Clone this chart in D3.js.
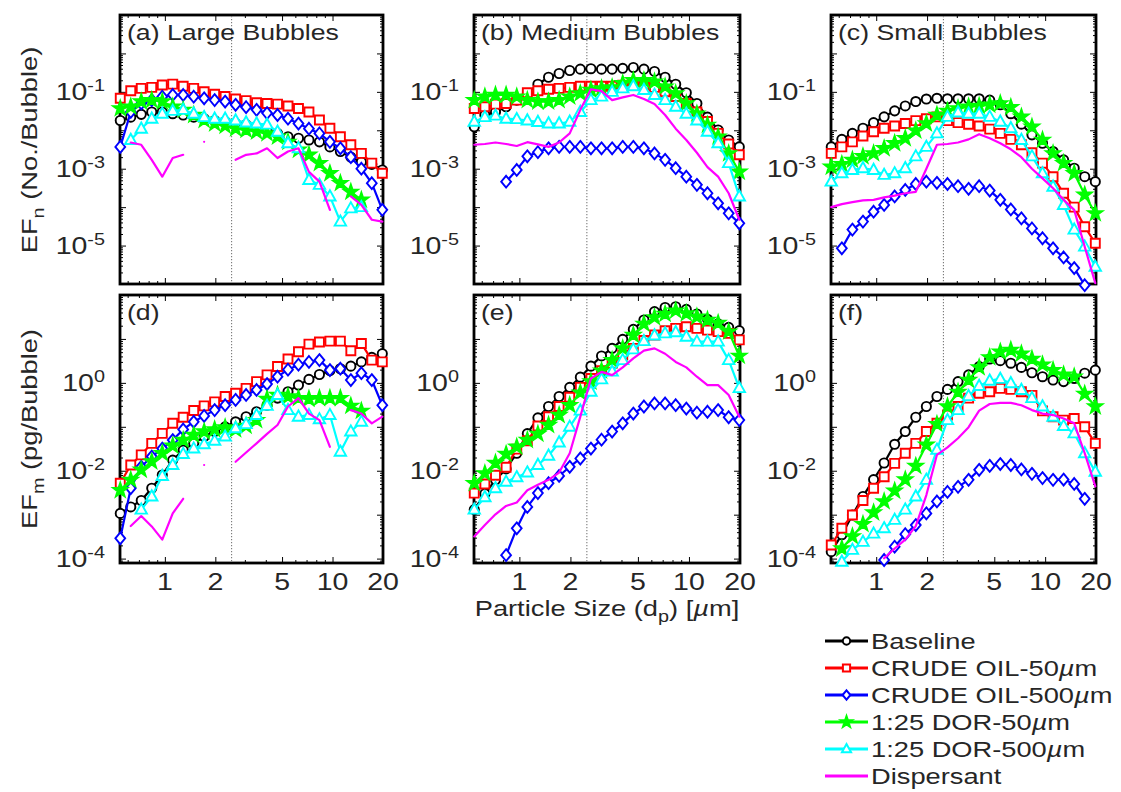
<!DOCTYPE html>
<html>
<head>
<meta charset="utf-8">
<title>Emission factors by particle size</title>
<script src="https://cdn.jsdelivr.net/npm/d3@7/dist/d3.min.js"></script>
<style>
  html, body { margin: 0; padding: 0; background: #fff; }
  svg { display: block; font-family: "Liberation Sans", Arial, Helvetica, sans-serif; }
</style>
</head>
<body>
<svg id="fig" width="1121" height="792"></svg>
<script>
// Particle size bin midpoints (µm)
const sizes = [0.542, 0.626, 0.723, 0.835, 0.965, 1.114, 1.286, 1.486, 1.715, 1.981, 2.288, 2.642, 3.051,
               3.523, 4.068, 4.698, 5.425, 6.264, 7.234, 8.354, 9.647, 11.14, 12.86, 14.86, 17.15, 19.81];

// (a) Large bubbles, EFn (No./Bubble)
const aBaseline = [0.018,0.022,0.026,0.030,0.030,0.027,0.025,0.022,0.020,0.018,0.017,0.015,0.014,0.012,0.010,0.0083,0.0068,0.0062,0.0056,0.0050,0.0037,0.0028,0.0020,0.0015,0.0013,0.00093];
const aCrude50  = [0.068,0.107,0.123,0.131,0.151,0.159,0.14,0.123,0.101,0.087,0.076,0.065,0.059,0.052,0.050,0.048,0.043,0.037,0.030,0.0185,0.0113,0.0068,0.0042,0.0025,0.0014,0.00076];
const aCrude500 = [0.0037,0.030,0.050,0.061,0.075,0.083,0.083,0.075,0.068,0.061,0.056,0.046,0.040,0.034,0.028,0.025,0.020,0.015,0.011,0.0083,0.0050,0.0034,0.0020,0.0010,0.00042,0.000085];
const aDor50    = [0.037,0.041,0.056,0.061,0.056,0.041,0.034,0.025,0.0185,0.015,0.013,0.011,0.0102,0.0092,0.0083,0.0068,0.0050,0.0031,0.0023,0.0014,0.00076,0.00042,0.00025,0.000155,null,null];
const aDor500   = [null,0.0056,0.011,0.020,0.027,0.032,0.034,0.027,0.022,0.020,0.020,0.018,0.016,0.015,0.014,0.0092,0.0046,0.0034,0.00051,0.00038,0.00019,0.000042,0.000093,0.0001,null,null];
const aDisp     = [null,0.0048,0.0042,0.0017,0.00062,0.0019,0.0023,null,0.005,null,null,0.0017,0.0023,0.0025,0.0034,0.0019,0.0028,0.0034,0.00083,0.00046,0.000085,null,0.00019,0.000114,0.000047,0.000042];

// (b) Medium bubbles, EFn
const bBaseline = [0.0123,0.025,0.030,0.041,0.061,0.091,0.158,0.24,0.30,0.36,0.39,0.40,0.39,0.39,0.41,0.43,0.39,0.34,0.24,0.158,0.095,0.050,0.022,0.0102,0.0056,0.0037];
const bCrude50  = [0.037,0.041,0.048,0.050,0.061,0.095,0.107,0.117,0.123,0.131,0.14,0.14,0.14,0.14,0.15,0.16,0.15,0.131,0.101,0.076,0.050,0.030,0.017,0.0083,0.0044,0.0023];
const bCrude500 = [null,null,null,0.00046,0.00093,0.0021,0.0027,0.0034,0.0037,0.0037,0.0037,0.0034,0.0034,0.0034,0.0037,0.0037,0.0034,0.0025,0.0017,0.00103,0.00062,0.00038,0.00023,0.000126,0.000069,0.000038];
const bDor50    = [0.061,0.075,0.083,0.083,0.075,0.061,0.056,0.056,0.061,0.075,0.091,0.112,0.123,0.131,0.167,0.20,0.20,0.185,0.137,0.091,0.050,0.027,0.0138,0.0068,0.0025,0.00083];
const bDor500   = [0.0167,0.022,0.024,0.020,0.0195,0.018,0.0165,0.015,0.015,0.0167,0.030,0.061,0.075,0.10,0.123,0.14,0.112,0.083,0.061,0.041,0.027,0.018,0.0092,0.0046,0.0014,0.00019];
const bDisp     = [0.0042,0.0044,0.0048,0.0044,0.0039,0.0049,0.0043,0.0037,0.0048,0.0083,0.034,0.117,0.104,0.061,0.072,0.083,0.065,0.048,0.025,0.011,0.0056,0.0026,0.0011,0.00062,0.00023,0.000047];

// (c) Small bubbles, EFn
const cBaseline = [0.0037,0.0058,0.0083,0.0113,0.0158,0.0224,0.032,0.043,0.056,0.065,0.068,0.066,0.066,0.066,0.066,0.061,0.046,0.027,0.0144,0.0076,0.0046,0.0028,0.0017,0.00103,0.00062,0.00046];
const cCrude50  = [0.0025,0.0037,0.005,0.0071,0.0092,0.0113,0.0129,0.015,0.0178,0.020,0.0224,0.0178,0.0158,0.0144,0.0129,0.0107,0.0083,0.0058,0.0042,0.0026,0.0014,0.00062,0.00023,0.0001,0.000031,0.0000115];
const cCrude500 = [null,0.0000085,0.000026,0.000042,0.000076,0.000114,0.00019,0.00028,0.0004,0.00046,0.00043,0.0004,0.00035,0.0003,0.00035,0.00027,0.000155,0.000087,0.000051,0.000028,0.0000155,0.0000085,0.0000049,0.0000026,0.00000093,null];
const cDor50    = [0.00112,0.00131,0.0017,0.0021,0.0025,0.0034,0.0046,0.0062,0.0098,0.015,0.025,0.032,0.037,0.041,0.043,0.046,0.050,0.040,0.0224,0.0123,0.0056,0.0025,0.0014,0.00076,0.00021,0.000069];
const cDor500   = [0.00046,0.00076,0.00093,0.00103,0.00093,0.00069,0.00076,0.00103,0.0021,0.0037,0.0083,0.0224,0.029,0.027,0.027,0.0224,0.0167,0.0113,0.0056,0.0021,0.00076,0.00034,0.000114,0.000026,0.0000094,0.0000028];
const cDisp     = [0.0001,0.00012,0.000135,0.00015,0.000155,0.00018,0.0002,0.00023,0.00025,0.001,0.0042,0.0044,0.0048,0.0058,0.0079,0.0062,0.0046,0.0032,0.002,0.001,0.00056,0.00031,0.000155,0.000085,0.0000093,0.00000105];

// (d) Large bubbles, EFm (pg/Bubble)
const dBaseline = [0.00107,0.0015,0.0021,0.0040,0.0080,0.0175,0.0295,0.042,0.060,0.078,0.10,0.13,0.17,0.22,0.31,0.45,0.63,0.89,1.2,1.55,1.9,2.1,2.4,3.0,3.8,4.6];
const dCrude50  = [0.0052,0.0135,0.023,0.042,0.071,0.12,0.165,0.235,0.30,0.37,0.49,0.58,0.75,1.07,1.52,2.35,3.5,5.1,7.6,8.5,8.9,8.9,5.4,7.9,3.3,3.0];
const dCrude500 = [0.00029,0.004,0.0123,0.021,0.032,0.050,0.087,0.13,0.177,0.24,0.31,0.41,0.53,0.69,0.94,1.38,2.0,2.6,3.0,3.3,1.95,2.1,1.16,1.66,1.16,0.31];
const dDor50    = [0.0036,0.0062,0.0105,0.0162,0.025,0.037,0.050,0.065,0.078,0.087,0.097,0.087,0.105,0.142,0.43,0.53,0.49,0.45,0.43,0.45,0.45,0.45,0.30,0.23,null,null];
const dDor500   = [null,null,0.0013,0.0026,0.0076,0.0135,0.024,0.032,0.040,0.048,0.060,0.093,0.115,0.185,0.30,0.53,0.24,0.17,0.185,0.148,0.185,0.027,0.078,0.13,null,null];
const dDisp     = [null,0.00055,0.00093,0.00054,0.00027,0.00107,0.0023,null,0.0135,null,null,0.016,0.026,0.042,0.069,0.11,0.29,0.45,0.20,0.142,0.035,null,0.24,0.20,0.12,0.17];

// (e) Medium bubbles, EFm
const eBaseline = [0.0013,0.003,0.0062,0.011,0.025,0.07,0.16,0.29,0.49,0.79,1.35,2.4,4.1,6.1,9.8,16.5,27,42,52,54,47,37,28,22,18.3,15.4];
const eCrude50  = [0.0031,0.005,0.0079,0.012,0.031,0.048,0.104,0.17,0.29,0.47,0.79,1.26,1.9,2.8,4.3,6.1,9.2,12.3,15.4,17.4,19,17.4,15.9,14.7,13.4,9.5];
const eCrude500 = [null,null,null,0.00012,0.00049,0.0015,0.0031,0.0052,0.0076,0.0123,0.019,0.032,0.051,0.078,0.12,0.20,0.29,0.34,0.34,0.31,0.26,0.21,0.22,0.24,0.165,0.142];
const eDor50    = [0.0052,0.0087,0.015,0.024,0.035,0.050,0.069,0.11,0.185,0.31,0.60,1.07,1.9,3.3,6.1,12.3,22,31,37,44,38,32,27,23,14.7,4.1];
const eDor500   = [0.0013,0.0025,0.004,0.0056,0.0071,0.0091,0.0135,0.022,0.044,0.10,0.233,0.63,1.2,1.8,3.3,5.8,8.9,12,13.4,14.2,11.2,8.7,8.7,8.7,3.3,0.76];
const eDisp     = [0.00032,0.00058,0.00102,0.00158,0.0019,0.0036,0.0048,0.0062,0.0091,0.025,0.17,1.26,1.78,1.5,2.25,3.6,5.4,6.1,4.6,3.0,2.25,1.38,0.89,0.89,0.53,0.17];

// (f) Small bubbles, EFm
const fBaseline = [0.000144,0.00035,0.00098,0.0026,0.0063,0.015,0.040,0.078,0.165,0.29,0.49,0.71,1.07,1.52,2.35,3.5,3.2,2.8,2.25,1.7,1.38,1.16,1.07,1.26,1.66,1.95];
const fCrude50  = [0.000204,0.00049,0.00098,0.0021,0.004,0.0073,0.0147,0.025,0.042,0.078,0.12,0.186,0.29,0.45,0.58,0.63,0.75,0.71,0.63,0.52,0.23,0.17,0.142,0.155,0.10,0.042];
const fCrude500 = [null,null,null,null,null,0.000093,0.000187,0.00036,0.00058,0.00107,0.002,0.0033,0.0043,0.0062,0.0105,0.0129,0.0142,0.0135,0.0107,0.0085,0.0068,0.0062,0.0063,0.005,0.0023,null];
const fDor50    = [null,0.00017,0.00032,0.00061,0.00112,0.002,0.0035,0.0063,0.0128,0.039,0.115,0.29,0.62,1.16,2.25,3.8,5.1,5.6,4.6,3.5,2.6,1.95,1.54,1.38,0.56,0.29];
const fDor500   = [null,0.000085,0.000158,0.00024,0.00037,0.00049,0.00076,0.0013,0.0026,0.0062,0.030,0.142,0.24,0.50,0.85,1.12,1.23,0.98,0.69,0.45,0.29,0.17,0.104,0.071,0.025,0.0095];
const fDisp     = [null,null,null,null,null,0.000102,0.00017,0.00027,0.00055,0.0028,0.023,0.034,0.055,0.098,0.234,0.33,0.35,0.35,0.31,0.24,0.20,0.185,0.155,0.12,0.025,0.0044];

const seriesLabels = ['Baseline', 'CRUDE OIL-50µm', 'CRUDE OIL-500µm', '1:25 DOR-50µm', '1:25 DOR-500µm', 'Dispersant'];
const panelTitles = ['(a) Large Bubbles', '(b) Medium Bubbles', '(c) Small Bubbles', '(d)', '(e)', '(f)'];
const panelData = [
  [aBaseline, aCrude50, aCrude500, aDor50, aDor500, aDisp],
  [bBaseline, bCrude50, bCrude500, bDor50, bDor500, bDisp],
  [cBaseline, cCrude50, cCrude500, cDor50, cDor500, cDisp],
  [dBaseline, dCrude50, dCrude500, dDor50, dDor500, dDisp],
  [eBaseline, eCrude50, eCrude500, eDor50, eDor500, eDisp],
  [fBaseline, fCrude50, fCrude500, fDor50, fDor500, fDisp]
];
const xTickValues = [1, 2, 5, 10, 20];
const cutSize = 2.5;   // PM2.5 reference line

// ---- styling ----
const colors = ['#000000', '#ff0000', '#0000ff', '#00ff00', '#00ffff', '#ff00ff'];
const markers = ['circle', 'square', 'diamond', 'star', 'triangle', null];
const TEXT = '#262626';
const SX = 1.24;            // horizontal stretch of the figure lettering
const FONT = 22;

const colExtent = [[120, 383], [474, 740], [831, 1096]];
const rowExtent = [[15, 284], [295, 563]];
const yDomains = [[1e-6, 10], [Math.pow(10, -4.1), 100]];
const yLabelExps = [[-1, -3, -5], [0, -2, -4]];

const svg = d3.select('#fig');

function markerPath(kind, s) {
  s = s || 1;
  if (kind === 'circle') return d3.symbol(d3.symbolCircle, Math.PI * 4.6 * 4.6 * s * s)();
  if (kind === 'square') { const h = 4.5 * s; return `M${-h},${-h}H${h}V${h}H${-h}Z`; }
  if (kind === 'diamond') { const w = 4.9 * s, h = 5.9 * s; return `M0,${-h}L${w},0L0,${h}L${-w},0Z`; }
  if (kind === 'triangle') { const w = 5.7 * s; return `M0,${-6.2 * s}L${w},${4 * s}L${-w},${4 * s}Z`; }
  if (kind === 'star') {
    const R = 7.4 * s, r = 2.9 * s, pts = [];
    for (let k = 0; k < 10; k++) {
      const a = -Math.PI / 2 + k * Math.PI / 5, rr = k % 2 ? r : R;
      pts.push([rr * Math.cos(a), rr * Math.sin(a)]);
    }
    return 'M' + pts.map(p => p[0].toFixed(2) + ',' + p[1].toFixed(2)).join('L') + 'Z';
  }
  return '';
}

function stretchedText(parent, x, y, parts, opts) {
  opts = opts || {};
  const t = parent.append('text')
    .attr('transform', `translate(${x},${y}) rotate(${opts.rotate || 0}) scale(${SX},1)`)
    .attr('text-anchor', opts.anchor || 'start')
    .attr('font-size', opts.size || FONT)
    .attr('fill', TEXT);
  parts.forEach(p => {
    const ts = t.append('tspan').text(p.t);
    if (p.dy) ts.attr('dy', p.dy);
    if (p.size) ts.attr('font-size', p.size);
    if (p.italic) ts.attr('font-style', 'italic');
  });
  return t;
}

// split "…µm" so the µ is set in italic
function unitParts(label) {
  const i = label.indexOf('µ');
  if (i < 0) return [{ t: label }];
  return [{ t: label.slice(0, i) }, { t: 'µ', italic: true }, { t: label.slice(i + 1) }];
}

function minorValues(domain) {
  const lo = Math.floor(Math.log10(domain[0])), hi = Math.ceil(Math.log10(domain[1]));
  const out = [];
  for (let k = lo; k < hi; k++) for (let m = 2; m <= 9; m++) {
    const v = m * Math.pow(10, k);
    if (v >= domain[0] && v <= domain[1]) out.push(v);
  }
  return out;
}
function majorValues(domain) {
  const out = [];
  for (let k = Math.ceil(Math.log10(domain[0]) - 1e-9); k <= Math.floor(Math.log10(domain[1]) + 1e-9); k++) out.push(Math.pow(10, k));
  return out;
}

panelData.forEach((series, p) => {
  const row = Math.floor(p / 3), col = p % 3;
  const [L, R] = colExtent[col], [T, B] = rowExtent[row];
  const x = d3.scaleLog().domain([0.54, 20]).range([L, R]);
  const y = d3.scaleLog().domain(yDomains[row]).range([B, T]);
  const g = svg.append('g');

  // tick marks on all four sides, pointing inward
  const xMinor = minorValues(x.domain()).filter(v => !xTickValues.includes(v));
  const yMajor = majorValues(y.domain()), yMinor = minorValues(y.domain());
  const addAxis = (axis, tr) => {
    const a = g.append('g').attr('transform', tr).call(axis);
    a.select('.domain').remove();
    a.selectAll('line').attr('stroke', '#000').attr('stroke-width', 1);
  };
  addAxis(d3.axisBottom(x).tickValues(xTickValues).tickSize(-6).tickFormat(''), `translate(0,${B})`);
  addAxis(d3.axisTop(x).tickValues(xTickValues).tickSize(-6).tickFormat(''), `translate(0,${T})`);
  addAxis(d3.axisBottom(x).tickValues(xMinor).tickSize(-3).tickFormat(''), `translate(0,${B})`);
  addAxis(d3.axisTop(x).tickValues(xMinor).tickSize(-3).tickFormat(''), `translate(0,${T})`);
  addAxis(d3.axisLeft(y).tickValues(yMajor).tickSize(-6).tickFormat(''), `translate(${L},0)`);
  addAxis(d3.axisRight(y).tickValues(yMajor).tickSize(-6).tickFormat(''), `translate(${R},0)`);
  addAxis(d3.axisLeft(y).tickValues(yMinor).tickSize(-3).tickFormat(''), `translate(${L},0)`);
  addAxis(d3.axisRight(y).tickValues(yMinor).tickSize(-3).tickFormat(''), `translate(${R},0)`);

  // box
  g.append('rect').attr('x', L).attr('y', T).attr('width', R - L).attr('height', B - T)
    .attr('fill', 'none').attr('stroke', '#000').attr('stroke-width', 2.8);

  // y tick labels (10^k)
  yLabelExps[row].forEach(k => {
    stretchedText(g, L - 15, y(Math.pow(10, k)) + 8,
      [{ t: '10' }, { t: String(k), dy: -9, size: 16 }],
      { anchor: 'end', size: 23 });
  });
  // x tick labels on the lower row
  if (row === 1) {
    xTickValues.forEach(v => stretchedText(g, x(v), B + 27, [{ t: String(v) }], { anchor: 'middle', size: 23 }));
  }

  // 2.5 µm reference line
  g.append('line').attr('x1', x(cutSize)).attr('x2', x(cutSize)).attr('y1', T + 1).attr('y2', B - 1)
    .attr('stroke', '#7a7a7a').attr('stroke-width', 1.1).attr('stroke-dasharray', '1.2,1.8');

  // data series
  const line = d3.line().defined(d => d[1] != null).x(d => x(d[0])).y(d => y(d[1]));
  series.forEach((vals, s) => {
    const pts = sizes.map((sz, i) => [sz, vals[i]]);
    g.append('path').attr('d', line(pts)).attr('fill', 'none')
      .attr('stroke', colors[s]).attr('stroke-width', 2.2)
      .attr('stroke-linejoin', 'round').attr('stroke-linecap', 'round');
    if (markers[s]) {
      const shape = markerPath(markers[s]);
      g.append('g').selectAll('path').data(pts.filter(d => d[1] != null)).join('path')
        .attr('d', shape)
        .attr('transform', d => `translate(${x(d[0])},${y(d[1])})`)
        .attr('fill', markers[s] === 'star' ? colors[s] : '#fff')
        .attr('stroke', colors[s]).attr('stroke-width', 1.9)
        .attr('stroke-linejoin', 'miter');
    }
  });

  // panel title
  stretchedText(g, L + 7, T + 25, [{ t: panelTitles[p] }], { size: 21.5 });
});

// axis titles
stretchedText(svg, 37, 150, [{ t: 'EF' }, { t: 'n', dy: 7, size: 16 }, { t: ' (No./Bubble)', dy: -7 }], { rotate: -90, anchor: 'middle' });
stretchedText(svg, 37, 429, [{ t: 'EF' }, { t: 'm', dy: 7, size: 16 }, { t: ' (pg/Bubble)', dy: -7 }], { rotate: -90, anchor: 'middle' });
stretchedText(svg, 607, 616, [{ t: 'Particle Size (d' }, { t: 'p', dy: 6, size: 16 }, { t: ') [', dy: -6 }, { t: 'µ', italic: true }, { t: 'm]' }], { anchor: 'middle' });

// legend
const leg = svg.append('g');
seriesLabels.forEach((lab, s) => {
  const ly = 641 + s * 27;
  leg.append('line').attr('x1', 825).attr('x2', 868).attr('y1', ly).attr('y2', ly)
    .attr('stroke', colors[s]).attr('stroke-width', 3.2);
  if (markers[s]) {
    leg.append('path').attr('d', markerPath(markers[s], 0.8)).attr('transform', `translate(846.5,${ly})`)
      .attr('fill', markers[s] === 'star' ? colors[s] : '#fff')
      .attr('stroke', colors[s]).attr('stroke-width', 2);
  }
  stretchedText(leg, 871, ly + 7.5, unitParts(lab), { size: 22 });
});
</script>
</body>
</html>
